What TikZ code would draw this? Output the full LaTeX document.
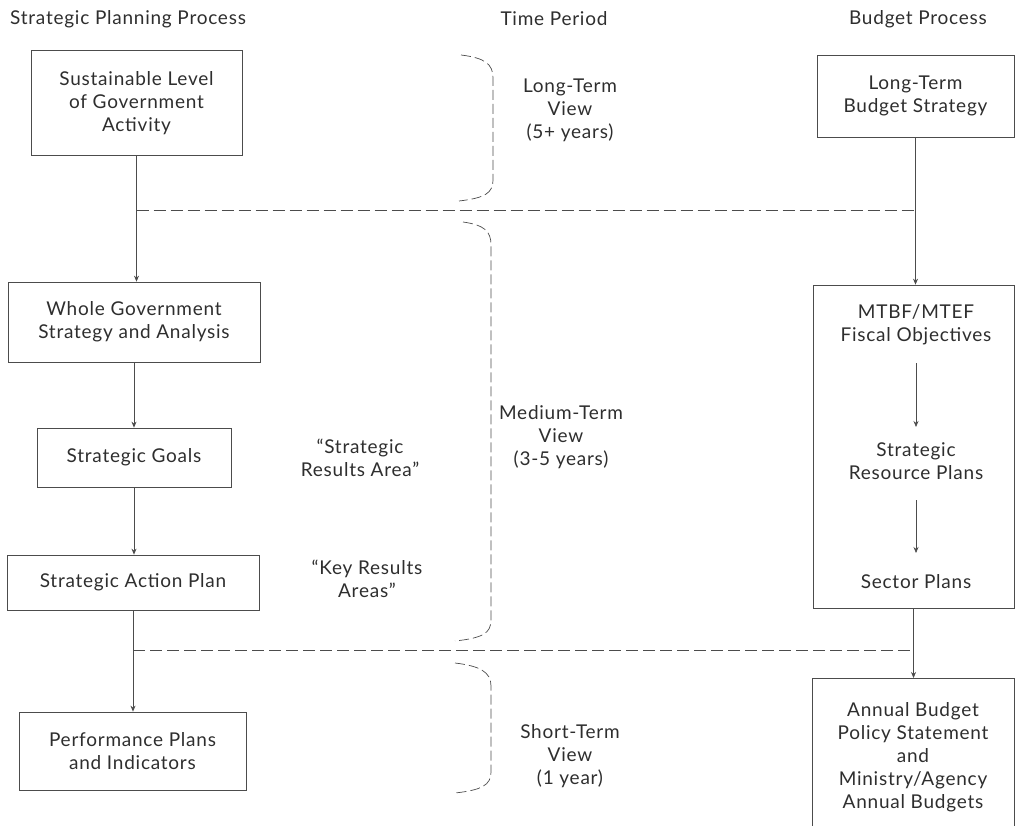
\documentclass[tikz,border=0pt]{standalone}
\usepackage{fontspec}
\setmainfont{Lato}[LetterSpace=4]
\usetikzlibrary{arrows.meta}
\definecolor{ink}{gray}{0.18}
\definecolor{linec}{gray}{0.3}
\begin{document}
\begin{tikzpicture}[x=1pt,y=-1pt,
  every node/.style={text=ink,font=\fontsize{19}{23}\selectfont},
  box/.style={draw=linec,line width=0.7pt,align=center,inner sep=0pt},
  lbl/.style={align=center,inner sep=0pt},
  arr/.style={draw=linec,line width=0.7pt,-{Stealth[length=6pt,width=5pt]}},
  dline/.style={draw=linec,line width=0.7pt,dash pattern=on 12pt off 5pt},
  brace/.style={draw=linec,line width=0.7pt,dash pattern=on 10pt off 4pt}]
\useasboundingbox (0,0) rectangle (1016,826);
% headers
\node[lbl,anchor=west] (h1) at (10,19) {Strategic Planning Process};
\node[lbl] (h2) at (554,19) {Time Period};
\node[lbl] (h3) at (918,19) {Budget Process};
% left column
\node[box,minimum width=211pt,minimum height=105pt] (b1) at (136.5,103) {Sustainable Level\\of Government\\Activity};
\node[box,minimum width=252pt,minimum height=80pt] (b2) at (134,322) {Whole Government\\Strategy and Analysis};
\node[box,minimum width=194pt,minimum height=59pt] (b3) at (134,457.5) {Strategic Goals};
\node[box,minimum width=252pt,minimum height=55pt] (b4) at (133,582.5) {Strategic Action Plan};
\node[box,minimum width=227pt,minimum height=78pt] (b5) at (132.5,751) {Performance Plans\\and Indicators};
\draw[arr] (b1.south) -- (b1.south |- b2.north);
\draw[arr] (b2.south) -- (b2.south |- b3.north);
\draw[arr] (b3.south) -- (b3.south |- b4.north);
\draw[arr] (b4.south) -- (b4.south |- b5.north);
% quote labels
\node[lbl] (q1) at (360,457.5) {“Strategic\\Results Area”};
\node[lbl] (q2) at (367,579) {“Key Results\\Areas”};
% time labels
\node[lbl] (t1) at (570,110) {Long-Term\\View\\(5+ years)};
\node[lbl] (t2) at (561,437) {Medium-Term\\View\\(3-5 years)};
\node[lbl] (t3) at (570,756) {Short-Term\\View\\(1 year)};
% braces
\draw[brace] (461,55) .. controls (485,58) and (493,64) .. (493,78) -- (493,180) .. controls (493,193) and (485,198) .. (459,201);
\draw[brace] (463,222) .. controls (484,225) and (491,231) .. (491,245) -- (491,620) .. controls (491,633) and (483,638) .. (455,641);
\draw[brace] (455,663) .. controls (480,666) and (491,672) .. (491,686) -- (491,772) .. controls (491,785) and (482,790) .. (455,793);
% right column
\node[box,minimum width=197pt,minimum height=82pt] (r1) at (915.5,96) {Long-Term\\Budget Strategy};
\node[box,minimum width=201pt,minimum height=323pt] (r2) at (913.5,446.5) {};
\node[lbl] (m1) at (916,325) {MTBF/MTEF\\Fiscal Objectives};
\node[lbl] (m2) at (916,461.5) {Strategic\\Resource Plans};
\node[lbl] (m3) at (916,582) {Sector Plans};
\node[box,minimum width=202pt,minimum height=170pt,anchor=north] (r3) at (913,678) {};
\node[lbl] (a1) at (913,757) {Annual Budget\\Policy Statement\\and\\Ministry/Agency\\Annual Budgets};
\draw[arr] (r1.south) -- (r1.south |- r2.north);
\draw[arr,shorten <=38pt,shorten >=34.5pt] (m1.center) -- (m2.center);
\draw[arr,shorten <=38.5pt,shorten >=29pt] (m2.center) -- (m3.center);
\draw[arr] (r2.south) -- (r2.south |- r3.north);
% dashed dividers
\coordinate (d1l) at (b1.south |- 0,210);
\coordinate (d1r) at (r1.south |- 0,210);
\coordinate (d2l) at (b4.south |- 0,650);
\coordinate (d2r) at (r2.south |- 0,650);
\draw[dline] (d1l) -- (d1r);
\draw[dline] (d2l) -- (d2r);
\end{tikzpicture}
\end{document}
